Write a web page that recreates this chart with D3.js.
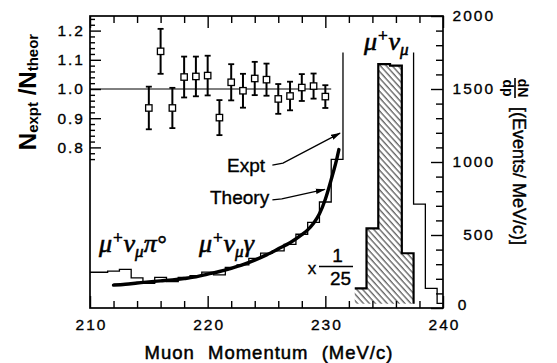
<!DOCTYPE html>
<html>
<head>
<meta charset="utf-8">
<script src="https://cdn.jsdelivr.net/npm/d3@7"></script>
<style>
  html, body { margin: 0; padding: 0; background: #fff; }
  svg { display: block; }
</style>
</head>
<body>
<svg id="chart" width="557" height="363"></svg>
<script>
// Muon momentum spectrum from K+ decays: measured spectrum, theory curve
// and the Expt/Theory ratio in the radiative region.

const momentumDomain = [210, 240];      // MeV/c
const ratioDomain = [0.25, 1.25];       // left scale
const rateDomain = [0, 2000];           // right scale, events per MeV/c

// Expt / Theory ratio with errors, 1 MeV/c bins
const ratioMomenta = [215, 216, 217, 218, 219, 220, 221, 222, 223, 224, 225, 226, 227, 228, 229, 230];
const ratioValues  = [0.935, 1.129, 0.935, 1.041, 1.043, 1.046, 0.902, 1.023, 0.994, 1.036, 1.032, 0.966, 0.976, 1.005, 1.010, 0.974];
const ratioErrors  = [0.073, 0.077, 0.069, 0.070, 0.068, 0.068, 0.060, 0.062, 0.058, 0.057, 0.055, 0.051, 0.049, 0.046, 0.043, 0.039];
const ratioLineEnd = 230.5;

// Measured spectrum, events per MeV/c, 1 MeV/c bins given by their centres
const exptMomenta = [210, 211, 212, 213, 214, 215, 216, 217, 218, 219, 220, 221, 222, 223, 224, 225,
                     226, 227, 228, 229, 230, 231, 232, 233, 234, 235, 236, 237, 238, 239, 240];
const exptCounts  = [245, 245, 253, 264, 207, 168, 210, 180, 210, 222, 246, 227, 278, 295, 340, 376,
                     391, 436, 505, 586, 726, 1018, 2100, 3375, 13650, 41775, 41500, 9375, 712, 135, 32];
const spectrumCeiling = 1750;           // unscaled spectrum runs off the top above this

// K -> mu nu peak redrawn at 1/25 scale
const peakMomenta = [233, 234, 235, 236, 237];
const peakScale = 25;
const peakTailMomentum = 238;

// Theory curve (mu nu gamma inner bremsstrahlung)
const theoryMomenta = [212, 213, 214, 215, 216, 217, 218, 219, 220, 221, 222, 223, 224, 225, 226,
                       227, 228, 228.5, 229, 229.5, 230, 230.5, 231, 231.15];
const theoryRates   = [157, 163, 171, 179, 186, 193, 202, 213, 232, 250, 272, 297, 328, 364, 405,
                       447, 502, 535, 580, 645, 745, 880, 1030, 1085];

// Tick values
const xMajorTicks = [210, 220, 230, 240];
const ratioMajorTicks = [0.8, 0.9, 1.0, 1.1, 1.2];
const rateMajorTicks = [0, 500, 1000, 1500, 2000];

// ------------------------------------------------------------------
const plot = { left: 90, right: 443, top: 16, bottom: 308 };
const SANS = "'Liberation Sans', Arial, Helvetica, sans-serif";
const SERIF = "'Liberation Serif', 'Times New Roman', serif";

const x = d3.scaleLinear().domain(momentumDomain).range([plot.left, plot.right]);
const yRatio = d3.scaleLinear().domain(ratioDomain).range([plot.bottom, plot.top]);
const yRate = d3.scaleLinear().domain(rateDomain).range([plot.bottom, plot.top]);

const svg = d3.select("#chart");
const defs = svg.append("defs");

defs.append("clipPath").attr("id", "plot-clip")
  .append("rect")
  .attr("x", plot.left).attr("y", plot.top)
  .attr("width", plot.right - plot.left).attr("height", plot.bottom - plot.top);

defs.append("clipPath").attr("id", "spectrum-clip")
  .append("rect")
  .attr("x", plot.left).attr("y", yRate(spectrumCeiling))
  .attr("width", plot.right - plot.left).attr("height", plot.bottom - yRate(spectrumCeiling));

const hatch = defs.append("pattern")
  .attr("id", "hatch")
  .attr("patternUnits", "userSpaceOnUse")
  .attr("width", 4.4).attr("height", 4.4)
  .attr("patternTransform", "rotate(-42)");
hatch.append("line")
  .attr("x1", 1).attr("y1", 0).attr("x2", 1).attr("y2", 4.4)
  .attr("stroke", "#111").attr("stroke-width", 0.9);

defs.append("marker")
  .attr("id", "arrow")
  .attr("viewBox", "0 0 10 10")
  .attr("preserveAspectRatio", "none")
  .attr("refX", 9).attr("refY", 5)
  .attr("markerWidth", 10).attr("markerHeight", 6)
  .attr("markerUnits", "userSpaceOnUse")
  .attr("orient", "auto")
  .append("path")
  .attr("d", "M0,0.5 L10,5 L0,9.5 Z")
  .attr("fill", "#000");

// ---------------- axes ----------------
function styleAxis(g) {
  g.select(".domain").remove();
  g.selectAll(".tick line").attr("stroke", "#000").attr("stroke-width", 1.4);
  g.selectAll(".tick text")
    .attr("fill", "#000")
    .attr("font-family", SANS)
    .attr("font-size", 15.5)
    .attr("letter-spacing", "2px")
    .attr("stroke", "#000").attr("stroke-width", 0.35);
}

const xMinorTicks = d3.range(212, 240, 2).filter(v => v % 10 !== 0);
const ratioMinorTicks = d3.range(38, 63).filter(k => k % 5 !== 0).map(k => k / 50);
const rateMinorTicks = d3.range(100, 2000, 100).filter(v => v % 500 !== 0);

// bottom
svg.append("g").attr("transform", `translate(0,${plot.bottom})`)
  .call(d3.axisBottom(x).tickValues(xMajorTicks).tickSize(-12).tickPadding(11).tickFormat(d3.format("d")))
  .call(styleAxis)
  .call(g => g.selectAll(".tick text").attr("dx", "1px"));
svg.append("g").attr("transform", `translate(0,${plot.bottom})`)
  .call(d3.axisBottom(x).tickValues(xMinorTicks).tickSize(-7).tickFormat(""))
  .call(styleAxis);

// top
svg.append("g").attr("transform", `translate(0,${plot.top})`)
  .call(d3.axisTop(x).tickValues(xMajorTicks).tickSize(-12).tickFormat(""))
  .call(styleAxis);
svg.append("g").attr("transform", `translate(0,${plot.top})`)
  .call(d3.axisTop(x).tickValues(xMinorTicks).tickSize(-7).tickFormat(""))
  .call(styleAxis);

// left (ratio)
svg.append("g").attr("transform", `translate(${plot.left},0)`)
  .call(d3.axisLeft(yRatio).tickValues(ratioMajorTicks).tickSize(-11).tickPadding(5).tickFormat(d3.format(".1f")))
  .call(styleAxis);
svg.append("g").attr("transform", `translate(${plot.left},0)`)
  .call(d3.axisLeft(yRatio).tickValues(ratioMinorTicks).tickSize(-5).tickFormat(""))
  .call(styleAxis);

// right (events / MeV/c)
svg.append("g").attr("transform", `translate(${plot.right},0)`)
  .call(d3.axisRight(yRate).tickValues(rateMajorTicks).tickSize(-12).tickFormat(d3.format("d")))
  .call(styleAxis)
  .call(g => g.selectAll(".tick text")
    .attr("text-anchor", "end")
    .attr("x", 52)
    .filter(d => d === 0)
    .attr("text-anchor", "middle")
    .attr("x", 20)
    .attr("dy", "0.12em"));
svg.append("g").attr("transform", `translate(${plot.right},0)`)
  .call(d3.axisRight(yRate).tickValues(rateMinorTicks).tickSize(-7).tickFormat(""))
  .call(styleAxis);

// frame
svg.append("rect")
  .attr("x", plot.left).attr("y", plot.top)
  .attr("width", plot.right - plot.left).attr("height", plot.bottom - plot.top)
  .attr("fill", "none").attr("stroke", "#000").attr("stroke-width", 1.7);

// ---------------- spectrum ----------------
const stepLine = d3.line().curve(d3.curveStepAfter);

function histogramPoints(centres, values) {
  const pts = centres.map((c, i) => [x(c - 0.5), values[i]]);
  pts.push([x(centres[centres.length - 1] + 0.5), values[values.length - 1]]);
  return pts;
}

const exptPts = histogramPoints(exptMomenta, exptCounts).map(([px, v]) => [px, yRate(v)]);
svg.append("g").attr("clip-path", "url(#plot-clip)")
  .append("path")
  .attr("clip-path", "url(#spectrum-clip)")
  .attr("d", stepLine(exptPts))
  .attr("fill", "none").attr("stroke", "#000").attr("stroke-width", 1.3);

// peak at 1/25 scale, hatched
const countAt = m => exptCounts[exptMomenta.indexOf(m)];
const peakValues = peakMomenta.map(m => countAt(m) / peakScale);
const tailValue = countAt(peakTailMomentum) / peakScale;
const peakPts = histogramPoints(peakMomenta, peakValues).map(([px, v]) => [px, yRate(v)]);
peakPts.push([x(peakMomenta[peakMomenta.length - 1] + 0.5), yRate(tailValue)]);

const fillPts = peakPts.concat([[x(peakMomenta[0] - 0.5), yRate(tailValue)]]);
const fillD = stepLine(fillPts) + "Z";
svg.append("path").attr("d", fillD).attr("fill", "url(#hatch)").attr("stroke", "none");
svg.append("path").attr("d", stepLine(peakPts))
  .attr("fill", "none").attr("stroke", "#000").attr("stroke-width", 2.2);

// theory curve
const theoryLine = d3.line()
  .x((d, i) => x(theoryMomenta[i]))
  .y(d => yRate(d))
  .curve(d3.curveMonotoneX);
svg.append("path")
  .attr("d", theoryLine(theoryRates))
  .attr("fill", "none").attr("stroke", "#000")
  .attr("stroke-width", 3.4).attr("stroke-linecap", "round");

// ---------------- ratio panel ----------------
svg.append("line")
  .attr("x1", x(momentumDomain[0])).attr("x2", x(ratioLineEnd))
  .attr("y1", yRatio(1)).attr("y2", yRatio(1))
  .attr("stroke", "#000").attr("stroke-width", 1);

const ratioG = svg.append("g");
const pts = ratioMomenta.map((m, i) => ({ m, v: ratioValues[i], e: ratioErrors[i] }));
ratioG.selectAll("line.err").data(pts).join("line")
  .attr("class", "err")
  .attr("x1", d => x(d.m)).attr("x2", d => x(d.m))
  .attr("y1", d => yRatio(d.v + d.e)).attr("y2", d => yRatio(d.v - d.e))
  .attr("stroke", "#000").attr("stroke-width", 2);
ratioG.selectAll("line.capTop").data(pts).join("line")
  .attr("class", "capTop")
  .attr("x1", d => x(d.m) - 3).attr("x2", d => x(d.m) + 3)
  .attr("y1", d => yRatio(d.v + d.e)).attr("y2", d => yRatio(d.v + d.e))
  .attr("stroke", "#000").attr("stroke-width", 1.8);
ratioG.selectAll("line.capBot").data(pts).join("line")
  .attr("class", "capBot")
  .attr("x1", d => x(d.m) - 3).attr("x2", d => x(d.m) + 3)
  .attr("y1", d => yRatio(d.v - d.e)).attr("y2", d => yRatio(d.v - d.e))
  .attr("stroke", "#000").attr("stroke-width", 1.8);
ratioG.selectAll("rect").data(pts).join("rect")
  .attr("x", d => x(d.m) - 3.2).attr("y", d => yRatio(d.v) - 3.2)
  .attr("width", 6.4).attr("height", 6.4)
  .attr("fill", "#fff").attr("stroke", "#000").attr("stroke-width", 1.3);

// ---------------- annotations ----------------
function sansText(px, py, str, size, anchor) {
  return svg.append("text")
    .attr("x", px).attr("y", py)
    .attr("font-family", SANS).attr("font-size", size)
    .attr("text-anchor", anchor || "start")
    .attr("fill", "#000").attr("stroke", "#000").attr("stroke-width", 0.35)
    .text(str);
}

sansText(227, 172, "Expt", 19);
sansText(210, 204, "Theory", 19);

svg.append("path")
  .attr("d", d3.line()([[x(225.5), yRate(978)], [x(226.4), yRate(992)], [x(231.25), yRate(1198)]]))
  .attr("fill", "none").attr("stroke", "#000").attr("stroke-width", 1.3)
  .attr("marker-end", "url(#arrow)");
svg.append("path")
  .attr("d", d3.line()([[x(225.5), yRate(740)], [x(226.3), yRate(747)], [x(229.95), yRate(812)]]))
  .attr("fill", "none").attr("stroke", "#000").attr("stroke-width", 1.3)
  .attr("marker-end", "url(#arrow)");

// x 1/25
sansText(312, 274, "x", 17, "middle");
svg.append("line").attr("x1", 319).attr("x2", 353).attr("y1", 266.5).attr("y2", 266.5)
  .attr("stroke", "#000").attr("stroke-width", 1.6);
sansText(337.5, 262, "1", 19, "middle");
sansText(340.5, 285, "25", 19, "middle");

// decay-channel labels
function channelLabel(px, py, parts) {
  const t = svg.append("text")
    .attr("x", px).attr("y", py)
    .attr("font-family", SERIF).attr("font-style", "italic")
    .attr("fill", "#000").attr("stroke", "#000").attr("stroke-width", 0.6);
  parts.forEach(p => t.append("tspan").attr("font-size", p.size).attr("dy", p.dy || 0).text(p.s));
  return t;
}
channelLabel(99, 252, [
  { s: "μ", size: 26 }, { s: "+", size: 17, dy: -9 }, { s: "ν", size: 26, dy: 9 },
  { s: "μ", size: 17, dy: 5 }, { s: "π", size: 26, dy: -5 }, { s: "°", size: 23 }
]);
channelLabel(199, 252, [
  { s: "μ", size: 26 }, { s: "+", size: 17, dy: -9 }, { s: "ν", size: 26, dy: 9 },
  { s: "μ", size: 17, dy: 5 }, { s: "γ", size: 26, dy: -5 }
]);
channelLabel(364, 50, [
  { s: "μ", size: 26 }, { s: "+", size: 17, dy: -9 }, { s: "ν", size: 26, dy: 9 },
  { s: "μ", size: 17, dy: 5 }
]);

// ---------------- axis titles ----------------
sansText(269, 359, "Muon Momentum (MeV/c)", 18.5, "middle")
  .attr("letter-spacing", "1px").attr("word-spacing", "7px").attr("stroke-width", 0.5);

const leftTitle = svg.append("text")
  .attr("transform", "translate(36,92) rotate(-90)")
  .attr("text-anchor", "middle")
  .attr("font-family", SANS).attr("font-weight", "bold")
  .attr("fill", "#000");
leftTitle.append("tspan").attr("font-size", 24).text("N");
leftTitle.append("tspan").attr("font-size", 15).attr("dy", 2).text("expt");
leftTitle.append("tspan").attr("font-size", 24).attr("dy", -2).text(" /N");
leftTitle.append("tspan").attr("font-size", 15).attr("dy", 2).text("theor");

svg.append("text")
  .attr("transform", "translate(513,176) rotate(90)")
  .attr("text-anchor", "middle")
  .attr("font-family", SANS).attr("font-size", 18)
  .attr("fill", "#000").attr("stroke", "#000").attr("stroke-width", 0.4)
  .text("[(Events/ MeV/c)]");

const frac = svg.append("g").attr("transform", "translate(515,88) rotate(90)");
frac.append("line").attr("x1", -10).attr("x2", 10).attr("y1", 0).attr("y2", 0)
  .attr("stroke", "#000").attr("stroke-width", 1.6);
frac.append("text").attr("x", 0).attr("y", -3).attr("text-anchor", "middle")
  .attr("font-family", SANS).attr("font-size", 14).attr("font-weight", "bold")
  .attr("fill", "#000").text("dN");
frac.append("text").attr("x", 0).attr("y", 12).attr("text-anchor", "middle")
  .attr("font-family", SANS).attr("font-size", 14).attr("font-weight", "bold")
  .attr("fill", "#000").text("dp");
</script>
</body>
</html>
